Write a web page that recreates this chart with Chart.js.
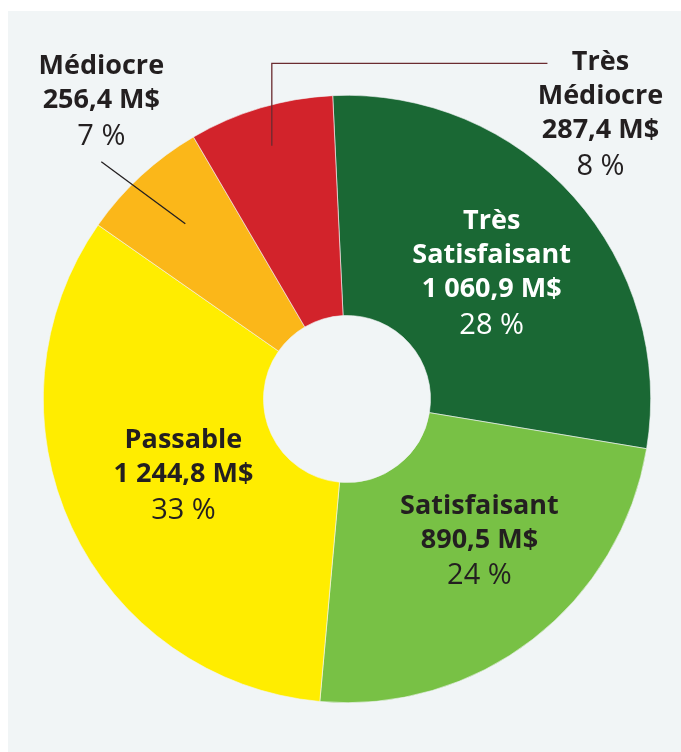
<!DOCTYPE html>
<html lang="fr">
<head>
<meta charset="utf-8">
<title>Répartition par cote</title>
<script src="https://cdn.jsdelivr.net/npm/chart.js@4.4.1/dist/chart.umd.min.js"></script>
<style>
    html, body { margin: 0; padding: 0; background: #ffffff; }
    #panel {
        position: absolute;
        left: 8px;
        top: 11px;
        width: 673px;
        height: 741px;
        background: #f1f5f6;
    }
    canvas { display: block; }
</style>
</head>
<body>
<div id="panel">
    <canvas id="ratingChart" width="673" height="741"></canvas>
</div>
<script>
// Données du graphique (M$)
const categories = ['Très Satisfaisant', 'Satisfaisant', 'Passable', 'Médiocre', 'Très Médiocre'];
const labelLines = [['Très', 'Satisfaisant'], ['Satisfaisant'], ['Passable'], ['Médiocre'], ['Très', 'Médiocre']];
const amounts = [1060.9, 890.5, 1244.8, 256.4, 287.4];
const percents = [28, 24, 33, 7, 8];
const sliceColors = ['#1a6834', '#78c145', '#ffed00', '#fbb719', '#d2232b'];

// Placement des étiquettes (décalages en px)
const labelPlacement = [
    { mode: 'inside', dx: 0, dy: 3, color: '#ffffff' },
    { mode: 'inside', dx: 14, dy: -11, color: '#231f20' },
    { mode: 'inside', dx: 12, dy: -5, color: '#231f20' },
    { mode: 'leader', color: '#231f20', lineColor: '#231f20' },
    { mode: 'elbow', color: '#231f20', lineColor: '#6b2c30' }
];

const BOLD_FONT = 'bold 27px "Open Sans", "Noto Sans", sans-serif';
const REG_FONT = '29px "Open Sans", "Noto Sans", sans-serif';
const LINE_GAP = 34;
const PCT_GAP = 36;

function formatAmount(v) {
    const parts = v.toFixed(1).split('.');
    const intPart = parts[0].replace(/\B(?=(\d{3})+(?!\d))/g, ' ');
    return intPart + ',' + parts[1] + ' M$';
}

function drawBlock(ctx, i, cx, firstY, color) {
    const lines = labelLines[i].concat([formatAmount(amounts[i])]);
    ctx.fillStyle = color;
    ctx.textAlign = 'center';
    ctx.textBaseline = 'middle';
    ctx.font = BOLD_FONT;
    lines.forEach(function (t, k) {
        ctx.fillText(t, cx, firstY + k * LINE_GAP);
    });
    ctx.font = REG_FONT;
    ctx.fillText(percents[i] + ' %', cx, firstY + (lines.length - 1) * LINE_GAP + PCT_GAP);
}

function blockSpan(i) {
    return labelLines[i].length * LINE_GAP + PCT_GAP;
}

const sliceLabels = {
    id: 'sliceLabels',
    afterDatasetsDraw(chart) {
        const ctx = chart.ctx;
        const arcs = chart.getDatasetMeta(0).data;
        ctx.save();
        arcs.forEach(function (arc, i) {
            const p = arc.getProps(['x', 'y', 'startAngle', 'endAngle', 'innerRadius', 'outerRadius'], true);
            const mid = (p.startAngle + p.endAngle) / 2;
            const R = p.outerRadius;
            const cfg = labelPlacement[i];

            if (cfg.mode === 'inside') {
                const r = (p.innerRadius + R) / 2;
                const ax = p.x + Math.cos(mid) * r + cfg.dx;
                const ay = p.y + Math.sin(mid) * r + cfg.dy;
                drawBlock(ctx, i, ax, ay - blockSpan(i) / 2, cfg.color);
            } else if (cfg.mode === 'leader') {
                // trait oblique vers l'étiquette en haut à gauche
                const x1 = p.x + Math.cos(mid) * R * 0.785;
                const y1 = p.y + Math.sin(mid) * R * 0.785;
                const x2 = x1 - 84;
                const y2 = y1 - 62;
                ctx.strokeStyle = cfg.lineColor;
                ctx.lineWidth = 1.3;
                ctx.beginPath();
                ctx.moveTo(x1, y1);
                ctx.lineTo(x2, y2);
                ctx.stroke();
                drawBlock(ctx, i, x2, y2 - 25 - blockSpan(i), cfg.color);
            } else {
                // trait coudé vers l'étiquette en haut à droite
                const x1 = p.x + Math.cos(mid) * R * 0.87;
                const y1 = p.y + Math.sin(mid) * R * 0.87;
                const y2 = p.y - R * 1.105;
                const x3 = p.x + R * 0.66;
                ctx.strokeStyle = cfg.lineColor;
                ctx.lineWidth = 1.3;
                ctx.beginPath();
                ctx.moveTo(x1, y1);
                ctx.lineTo(x1, y2);
                ctx.lineTo(x3, y2);
                ctx.stroke();
                drawBlock(ctx, i, x3 + 53, y2 - 1, cfg.color);
            }
        });
        ctx.restore();
    }
};

const ctxRating = document.getElementById('ratingChart').getContext('2d');
new Chart(ctxRating, {
    type: 'doughnut',
    data: {
        labels: categories,
        datasets: [{
            data: amounts,
            backgroundColor: sliceColors,
            borderColor: '#f1f5f6',
            borderWidth: 0.6
        }]
    },
    options: {
        responsive: false,
        animation: false,
        events: [],
        rotation: -2.7,
        cutout: '27.5%',
        layout: { padding: { left: 35, right: 30, top: 84, bottom: 49 } },
        plugins: {
            legend: { display: false },
            tooltip: { enabled: false }
        }
    },
    plugins: [sliceLabels]
});
</script>
</body>
</html>
